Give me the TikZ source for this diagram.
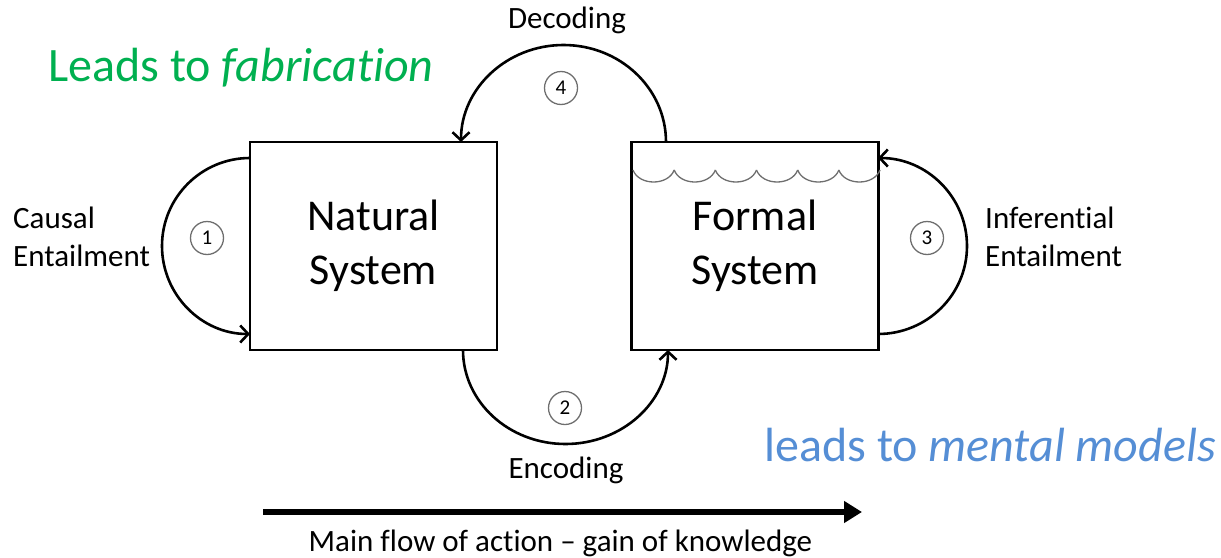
\documentclass[tikz,border=0pt]{standalone}
\usepackage{fontspec}
\setmainfont{Carlito}[Ligatures={TeX,NoCommon}]
\usetikzlibrary{arrows.meta}
\definecolor{leadgreen}{RGB}{0,176,80}
\definecolor{leadblue}{RGB}{85,142,213}
\definecolor{wavegray}{RGB}{110,110,110}
\begin{document}
\begin{tikzpicture}[x=1pt,y=-1pt,
  sysbox/.style={draw=black,line width=2.6pt,minimum width=247pt,minimum height=208pt,inner sep=0pt,align=center,font=\fontsize{44}{54}\selectfont},
  numcirc/.style={draw=wavegray,line width=1.3pt,circle,minimum size=33pt,inner sep=0pt,font=\fontsize{21}{21}\selectfont},
  flow/.style={line width=2.6pt,-{Straight Barb[length=8pt,width=17pt,line width=2.6pt]}},
  lbl/.style={font=\fontsize{31}{38}\selectfont,inner sep=0pt},
  lead/.style={font=\fontsize{48}{48}\selectfont,inner sep=0pt}]
\useasboundingbox (0,0) rectangle (1221,557);
\node[sysbox] (nat) at (373.5,246) {Natural\\System};
\node[sysbox] (frm) at (755,246) {Formal\\System};
% wave in formal system
\foreach \i in {0,...,5}{
  \pgfmathsetmacro{\xa}{633+\i*41.17}
  \pgfmathsetmacro{\xb}{633+(\i+1)*41.17}
  \draw[wavegray,line width=1.3pt] (\xa,170) .. controls (\xa+6,186) and (\xb-6,186) .. (\xb,170);
}
% connector end points
\coordinate (a1s) at (250,158);
\coordinate (a1m) at (162,246);
\coordinate (a1e) at (250,334);
\coordinate (a2s) at (463,350);
\coordinate (a2m) at (565.5,444);
\coordinate (a2e) at (668,350);
\coordinate (a3s) at (878,334);
\coordinate (a3m) at (967,246);
\coordinate (a3e) at (878,158);
\coordinate (a4s) at (666,142);
\coordinate (a4m) at (563.5,45);
\coordinate (a4e) at (461,142);
\draw[flow] (a1s) .. controls +(-48.6,0) and +(0,-48.6) .. (a1m) .. controls +(0,48.6) and +(-48.6,0) .. (a1e);
\draw[flow] (a2s) .. controls +(0,52) and +(-56.6,0) .. (a2m) .. controls +(56.6,0) and +(0,52) .. (a2e);
\draw[flow] (a3s) .. controls +(49.2,0) and +(0,48.6) .. (a3m) .. controls +(0,-48.6) and +(49.2,0) .. (a3e);
\draw[flow] (a4s) .. controls +(0,-53.6) and +(56.6,0) .. (a4m) .. controls +(-56.6,0) and +(0,-53.6) .. (a4e);
\node[numcirc] (n1) at (207,238) {1};
\node[numcirc] (n2) at (565,408) {2};
\node[numcirc] (n3) at (927,238) {3};
\node[numcirc] (n4) at (561,88) {4};
\node[lbl,anchor=west,align=left] (causal) at (13,237) {Causal\\Entailment};
\node[lbl,anchor=west,align=left] (infer) at (985,237) {Inferential\\Entailment};
\node[lbl] (dec) at (567,20) {Decoding};
\node[lbl] (enc) at (566,470) {Encoding};
\node[lead,text=leadgreen,anchor=west] (fab) at (48,68) {Leads to \textit{fabrication}};
\node[lead,text=leadblue,anchor=east] (ment) at (1216,445) {leads to \textit{mental models}};
\coordinate (fl) at (263,512);
\coordinate (fr) at (862,512);
\draw[line width=5.5pt,-{Triangle[length=18pt,width=21pt]}] (fl) -- (fr);
\node[lbl] (main) at (560.5,543) {Main flow of action – gain of knowledge};
\end{tikzpicture}
\end{document}
